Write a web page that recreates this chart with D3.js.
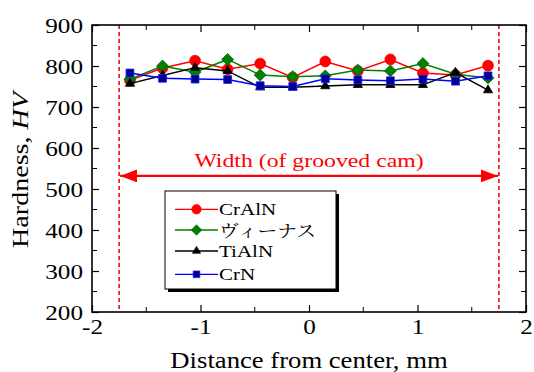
<!DOCTYPE html>
<html>
<head>
<meta charset="utf-8">
<script src="https://cdn.jsdelivr.net/npm/d3@7/dist/d3.min.js"></script>
<style>
  html, body { margin: 0; padding: 0; background: #fff; }
  svg { display: block; }
  svg text { font-family: "Liberation Serif", "Times New Roman", Times, serif; }
  svg text.cjk { font-family: "Noto Serif CJK JP", "Noto Sans CJK JP", serif; }
</style>
</head>
<body>
<svg id="chart" width="534" height="372"></svg>
<script>
// Measurement positions across the groove (mm from center)
const positions = [-1.65, -1.35, -1.05, -0.75, -0.45, -0.15, 0.15, 0.45, 0.75, 1.05, 1.35, 1.65];

// Hardness HV for each coating
const crAlN  = [765, 795, 813, 792, 806, 772, 811, 788, 816, 783, 778, 801];
const venus  = [768, 800, 785, 816, 778, 774, 776, 790, 788, 806, 780, 771];
const tiAlN  = [757, 777, 796, 788, 748, 748, 751, 754, 754, 754, 784, 741];
const crN    = [783, 770, 768, 767, 752, 750, 769, 766, 764, 768, 763, 776];

const seriesNames = ["CrAlN", "ヴィーナス", "TiAlN", "CrN"];

// Axis ticks
const xTicks = [-2, -1, 0, 1, 2];
const yTicks = [200, 300, 400, 500, 600, 700, 800, 900];

// Groove width limits and label
const grooveEdges = [-1.75, 1.75];
const grooveLabel = "Width (of grooved cam)";
const grooveLabelLevel = 532;

const svg = d3.select("#chart");
const plotLeft = 92, plotRight = 526, plotTop = 25, plotBottom = 312;
const stretch = 1.2; // wide lettering used throughout the figure

const x = d3.scaleLinear().domain([-2, 2]).range([plotLeft, plotRight]);
const y = d3.scaleLinear().domain([200, 900]).range([plotBottom, plotTop]);

const series = [
  { name: seriesNames[0], values: crAlN, line: "#ff0000", fill: "#ff0000", stroke: "#ff0000", shape: "circle" },
  { name: seriesNames[1], values: venus, line: "#008000", fill: "#008000", stroke: "#006400", shape: "diamond" },
  { name: seriesNames[2], values: tiAlN, line: "#000000", fill: "#000000", stroke: "#000000", shape: "triangle" },
  { name: seriesNames[3], values: crN,   line: "#0000ff", fill: "#000090", stroke: "#2020ff", shape: "square" }
];

const symbolType = {
  circle: d3.symbolCircle,
  diamond: d3.symbolDiamond2,
  triangle: d3.symbolTriangle2,
  square: d3.symbolSquare2
};
const symbolSize = { circle: 92, diamond: 90, triangle: 60, square: 78 };
const legendSymbolSize = { circle: 72, diamond: 72, triangle: 48, square: 58 };

// Groove edges (dashed red)
svg.selectAll("line.edge").data(grooveEdges).join("line")
  .attr("class", "edge")
  .attr("x1", d => x(d)).attr("x2", d => x(d))
  .attr("y1", plotTop).attr("y2", plotBottom)
  .attr("stroke", "#ff0000").attr("stroke-width", 1.6)
  .attr("stroke-dasharray", "4,3");

// Width arrow
const defs = svg.append("defs");
defs.append("marker").attr("id", "arrowEnd")
  .attr("viewBox", "0 0 17 13").attr("refX", 17).attr("refY", 6.5)
  .attr("markerWidth", 17).attr("markerHeight", 13).attr("markerUnits", "userSpaceOnUse")
  .attr("orient", "auto")
  .append("path").attr("d", "M0,0 L17,6.5 L0,13 Z").attr("fill", "#ff0000");
defs.append("marker").attr("id", "arrowStart")
  .attr("viewBox", "0 0 17 13").attr("refX", 0).attr("refY", 6.5)
  .attr("markerWidth", 17).attr("markerHeight", 13).attr("markerUnits", "userSpaceOnUse")
  .attr("orient", "auto")
  .append("path").attr("d", "M17,0 L0,6.5 L17,13 Z").attr("fill", "#ff0000");

svg.append("line")
  .attr("x1", x(grooveEdges[0]) + 1).attr("x2", x(grooveEdges[1]) - 1)
  .attr("y1", y(grooveLabelLevel)).attr("y2", y(grooveLabelLevel))
  .attr("stroke", "#ff0000").attr("stroke-width", 2.2)
  .attr("marker-start", "url(#arrowStart)").attr("marker-end", "url(#arrowEnd)");

svg.append("text")
  .attr("transform", `translate(${x(0)},${y(grooveLabelLevel) - 9}) scale(${stretch},1)`)
  .attr("text-anchor", "middle").style("font-size", "19.8px").attr("fill", "#ff0000")
  .text(grooveLabel);

// Series lines and markers
const lineGen = d3.line().x((d, i) => x(positions[i])).y(d => y(d));
series.forEach(s => {
  const g = svg.append("g");
  g.append("path").datum(s.values)
    .attr("d", lineGen).attr("fill", "none")
    .attr("stroke", s.line).attr("stroke-width", 1.5);
  g.selectAll("path.pt").data(s.values).join("path")
    .attr("class", "pt")
    .attr("transform", (d, i) => `translate(${x(positions[i])},${y(d)})`)
    .attr("d", d3.symbol().type(symbolType[s.shape]).size(symbolSize[s.shape])())
    .attr("fill", s.fill).attr("stroke", s.stroke).attr("stroke-width", 0.8);
});

// Axes with inward ticks on all four sides
const axisBottom = d3.axisBottom(x).tickValues(xTicks).tickSize(-7).tickPadding(0)
  .tickFormat(d => d < 0 ? "-" + Math.abs(d) : String(d));
const axisLeft = d3.axisLeft(y).tickValues(yTicks).tickSize(-7).tickPadding(0);

const gx = svg.append("g").attr("transform", `translate(0,${plotBottom})`).call(axisBottom);
const gy = svg.append("g").attr("transform", `translate(${plotLeft},0)`).call(axisLeft);
[gx, gy].forEach(g => {
  g.attr("font-family", null).attr("font-size", null);
  g.select(".domain").remove();
  g.selectAll(".tick line").attr("stroke", "#000").attr("stroke-width", 1.2);
  g.selectAll(".tick text").style("font-size", "21px").attr("fill", "#000");
});
gx.selectAll(".tick text")
  .attr("y", 0).attr("dy", null)
  .attr("transform", `translate(0,22) scale(${stretch},1)`);
gy.selectAll(".tick text")
  .attr("x", 0).attr("dy", "0.34em")
  .attr("transform", `translate(-9,0) scale(${stretch},1)`);

// Top and right mirrored ticks
svg.append("g").attr("transform", `translate(0,${plotTop})`)
  .call(d3.axisTop(x).tickValues(xTicks).tickSize(-7).tickFormat(""))
  .call(g => g.select(".domain").remove())
  .selectAll(".tick line").attr("stroke-width", 1.2);
svg.append("g").attr("transform", `translate(${plotRight},0)`)
  .call(d3.axisRight(y).tickValues(yTicks).tickSize(-7).tickFormat(""))
  .call(g => g.select(".domain").remove())
  .selectAll(".tick line").attr("stroke-width", 1.2);

// Minor ticks
const minorX = d3.range(-2, 2.001, 0.5).filter(v => !xTicks.includes(v));
const minorY = d3.range(200, 900.001, 50).filter(v => !yTicks.includes(v));
const minorLen = 5;
svg.append("g").selectAll("line").data(minorX).join("line")
  .attr("x1", d => x(d)).attr("x2", d => x(d)).attr("y1", plotBottom).attr("y2", plotBottom - minorLen)
  .attr("stroke", "#000").attr("stroke-width", 1);
svg.append("g").selectAll("line").data(minorX).join("line")
  .attr("x1", d => x(d)).attr("x2", d => x(d)).attr("y1", plotTop).attr("y2", plotTop + minorLen)
  .attr("stroke", "#000").attr("stroke-width", 1);
svg.append("g").selectAll("line").data(minorY).join("line")
  .attr("x1", plotLeft).attr("x2", plotLeft + minorLen).attr("y1", d => y(d)).attr("y2", d => y(d))
  .attr("stroke", "#000").attr("stroke-width", 1);
svg.append("g").selectAll("line").data(minorY).join("line")
  .attr("x1", plotRight).attr("x2", plotRight - minorLen).attr("y1", d => y(d)).attr("y2", d => y(d))
  .attr("stroke", "#000").attr("stroke-width", 1);

// Plot frame
svg.append("rect")
  .attr("x", plotLeft).attr("y", plotTop).attr("width", plotRight - plotLeft).attr("height", plotBottom - plotTop)
  .attr("fill", "none").attr("stroke", "#000").attr("stroke-width", 1.6);

// Axis titles
svg.append("text")
  .attr("transform", `translate(${x(0)},367.5) scale(1.16,1)`)
  .attr("text-anchor", "middle").style("font-size", "23px")
  .text("Distance from center, mm");

const yTitle = svg.append("text")
  .attr("transform", `translate(27.5,170) rotate(-90) scale(1.22,1)`)
  .attr("text-anchor", "middle").style("font-size", "23px");
yTitle.append("tspan").text("Hardness, ");
yTitle.append("tspan").attr("font-style", "italic").text("HV");

// Legend
const lg = svg.append("g").attr("transform", "translate(165,191)");
const lw = 171, lh = 98;
lg.append("rect").attr("x", 3).attr("y", 3).attr("width", lw).attr("height", lh).attr("fill", "#000");
lg.append("rect").attr("x", 0).attr("y", 0).attr("width", lw).attr("height", lh)
  .attr("fill", "#fff").attr("stroke", "#000").attr("stroke-width", 1);
const rowY = [18.3, 39, 60, 83.3];
series.forEach((s, i) => {
  const row = lg.append("g").attr("transform", `translate(0,${rowY[i]})`);
  row.append("line").attr("x1", 10).attr("x2", 53).attr("y1", 0).attr("y2", 0)
    .attr("stroke", s.line).attr("stroke-width", 1.3);
  row.append("path").attr("transform", "translate(31.5,0)")
    .attr("d", d3.symbol().type(symbolType[s.shape]).size(legendSymbolSize[s.shape])())
    .attr("fill", s.fill).attr("stroke", s.stroke).attr("stroke-width", 0.6);
  row.append("text")
    .attr("transform", `translate(54,${i === 1 ? 6.5 : 6}) scale(${stretch},1)`)
    .style("font-size", i === 1 ? "16.5px" : "17.5px")
    .attr("class", i === 1 ? "cjk" : null)
    .text(s.name);
});
</script>
</body>
</html>
